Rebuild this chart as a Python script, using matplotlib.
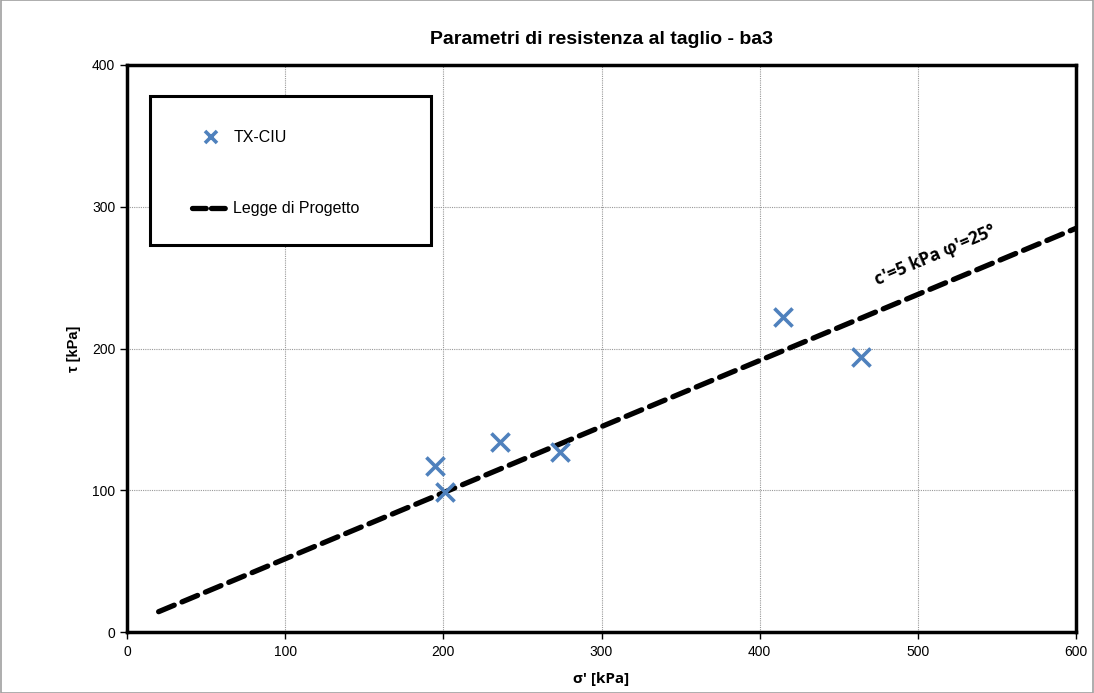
import numpy as np
import matplotlib
matplotlib.use('Agg')
import matplotlib.pyplot as plt
from matplotlib.patches import Rectangle
from matplotlib.lines import Line2D

plt.rcParams['font.family'] = ['Liberation Sans', 'DejaVu Sans']

# prove triassiali TX-CIU
sigma = [195, 201, 236, 274, 415, 464]
tau = [117, 99, 134, 127, 222, 194]

# legge di progetto
c_eff = 5.0
phi_eff = 25.0
sigma_line = [20, 600]

x_ticks = [0, 100, 200, 300, 400, 500, 600]
y_ticks = [0, 100, 200, 300, 400]

blue = '#4F81BD'

fig = plt.figure(figsize=(10.94, 6.93), dpi=100)
ax = fig.add_axes([127 / 1094, 1 - 632 / 693, 949 / 1094, 567 / 693])

tau_line = [c_eff + s * np.tan(np.radians(phi_eff)) for s in sigma_line]
ax.plot(sigma_line, tau_line, color='black', lw=3.8, dashes=(3.2, 1.6),
        solid_capstyle='round', dash_capstyle='round', zorder=3)
ax.scatter(sigma, tau, marker='x', s=170, color=blue, linewidths=2.6, zorder=4)

ax.set_xlim(0, 600)
ax.set_ylim(0, 400)
ax.set_xticks(x_ticks)
ax.set_yticks(y_ticks)
ax.grid(True, color='#999999', linestyle=(0, (1, 1)), linewidth=0.8)
ax.set_axisbelow(True)
for sp in ax.spines.values():
    sp.set_linewidth(2.5)
ax.tick_params(axis='both', labelsize=10, length=5, width=1, direction='out')
ax.tick_params(axis='x', pad=4)

ax.set_title('Parametri di resistenza al taglio - ba3', fontsize=14,
             fontweight='bold', pad=15)
ax.set_xlabel("σ' [kPa]", fontsize=11, fontweight='bold',
              family=['Open Sans', 'DejaVu Sans'], labelpad=10)
ax.set_ylabel('τ [kPa]', fontsize=10.5, fontweight='bold')
ax.yaxis.set_label_coords(-0.048, 0.5)

# etichetta della retta
ax.text(511, 266, "c'=5 kPa φ'=25°", rotation=23, fontsize=12.5,
        fontweight='bold', family=['Open Sans', 'DejaVu Sans'],
        ha='center', va='center', rotation_mode='anchor')

# riquadro legenda
ax.add_patch(Rectangle((0.0242, 0.683), 0.296, 0.262, transform=ax.transAxes,
                       facecolor='white', edgecolor='black', lw=2.2, zorder=5))
handles = [
    Line2D([], [], linestyle='none', marker='x', color=blue, markersize=9,
           markeredgewidth=2.6),
    Line2D([], [], color='black', lw=3.8, dashes=(2.6, 1.0),
           dash_capstyle='round'),
]
leg = ax.legend(handles, ['TX-CIU', 'Legge di Progetto'], loc='upper left',
                bbox_to_anchor=(0.053, 0.91), frameon=False, fontsize=11.5,
                labelspacing=3.5, handlelength=2.4, handletextpad=0.2)
leg.set_zorder(6)

fig.add_artist(Rectangle((0.0005, 0.0007), 0.999, 0.9986, transform=fig.transFigure,
                         fill=False, edgecolor='#a0a0a0', lw=1.2))

fig.savefig('out.png', dpi=100)
